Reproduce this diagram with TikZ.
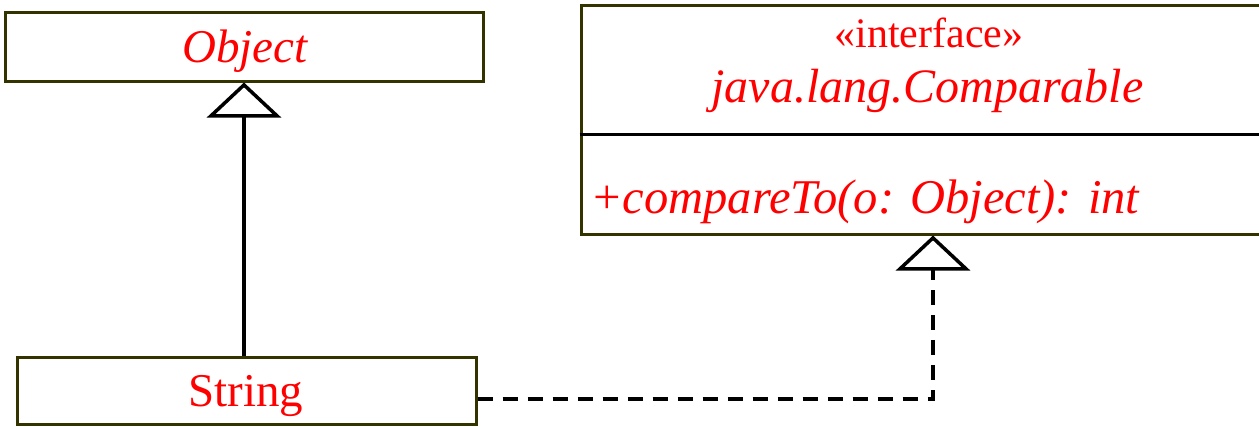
\documentclass[tikz,border=0pt]{standalone}
\usepackage{fontspec}
\setmainfont{Liberation Serif}
\usetikzlibrary{positioning, arrows.meta}
\definecolor{boxline}{RGB}{51,51,0}

\begin{document}
\begin{tikzpicture}[
	x=1pt, y=-1pt,
	umlclass/.style={rectangle, draw=boxline, line width=3pt, fill=white, inner sep=0pt, text=red, font=\fontsize{47pt}{52pt}\selectfont},
	umltext/.style={anchor=base, inner sep=0pt, text=red, font=\fontsize{47pt}{52pt}\selectfont},
	inherit/.style={-{Triangle[open, length=35pt, width=74pt]}, line width=3.5pt, line join=miter},
	realize/.style={-{Triangle[open, length=35pt, width=74pt, line width=3.5pt]}, line width=3.5pt, dash pattern=on 15pt off 10pt},
	>=LaTeX
]
\useasboundingbox (0,0) rectangle (1259,426);
\clip (0,0) rectangle (1259,426);

\node[umlclass, minimum width=478pt, minimum height=69pt] (object) at (244,46.5) {};
\node[umltext] (objecttext) at (245,62) {\itshape Object};

\node[umlclass, minimum width=681pt, minimum height=229pt] (iface) at (921.5,119.5) {};
\node[umltext, font=\fontsize{42pt}{46pt}\selectfont] (stereo) at (929,47) {«interface»};
\node[umltext, font=\fontsize{48pt}{52pt}\selectfont] (ifacename) at (927.5,102) {\itshape java.lang.Comparable};
\draw[line width=3pt] (iface.west |- 0,134) -- (iface.east |- 0,134);
\node[umltext, anchor=base west, font=\fontsize{48.5pt}{52pt}\selectfont] (method) at (590,213) {\itshape +compareTo(o: Object): int};

\node[umlclass, minimum width=459pt, minimum height=67pt] (string) at (246.5,390.5) {};
\node[umltext] (stringtext) at (246,406) {String};

\draw[inherit] (string.north -| object.south) -- (object.south);
\draw[realize] ([yshift=-8.5pt]string.east) -| ([xshift=11.5pt]iface.south);

\end{tikzpicture}
\end{document}
